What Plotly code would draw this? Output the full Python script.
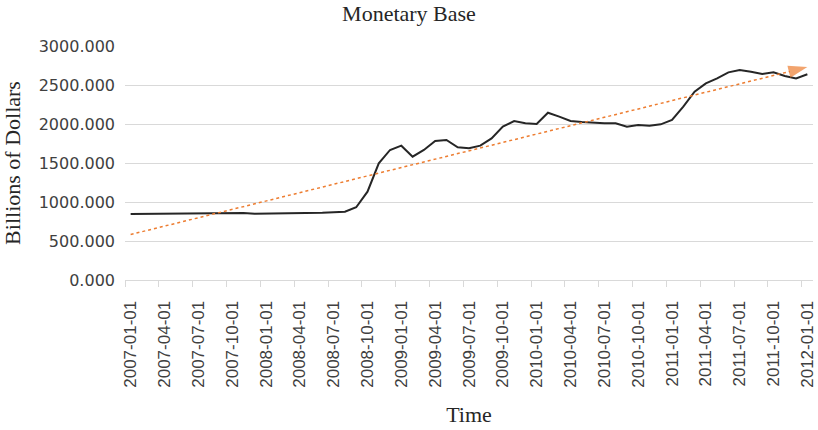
import numpy as np
import plotly.graph_objects as go

# monthly observations, 2007-01 .. 2012-01
dates = [f"{y}-{m:02d}-01" for y in range(2007, 2012) for m in range(1, 13)] + ["2012-01-01"]

monetary_base = [
    845, 846, 848, 849, 850, 852, 853, 854, 855, 857,
    860, 850, 851, 853, 855, 857, 859, 862, 868, 875,
    932, 1132, 1496, 1667, 1722, 1581, 1667, 1782, 1795, 1701,
    1688, 1722, 1816, 1966, 2038, 2009, 2000, 2145, 2094, 2038,
    2026, 2017, 2009, 2009, 1966, 1987, 1979, 1996, 2051, 2222,
    2415, 2521, 2585, 2662, 2692, 2671, 2641, 2662, 2615, 2585,
    2637,
]

y_ticks = [0, 500, 1000, 1500, 2000, 2500, 3000]

idx = np.arange(len(dates))
vals = np.array(monetary_base, dtype=float)

# linear trendline (like Excel's)
slope, intercept = np.polyfit(idx, vals, 1)
trend_x = [idx[0], idx[-1]]
trend_y = [intercept + slope * idx[0], intercept + slope * idx[-1]]

label_idx = list(idx[::3])
boundary_ticks = [i - 0.5 for i in label_idx]

fig = go.Figure()

fig.add_trace(go.Scatter(
    x=idx, y=vals, mode="lines",
    line=dict(color="#262626", width=2),
    showlegend=False,
))

fig.add_trace(go.Scatter(
    x=trend_x, y=trend_y, mode="lines+markers",
    line=dict(color="#ED7D31", width=1.5, dash="dot"),
    marker=dict(symbol="arrow", size=[0, 20], angleref="previous",
                color="#ED7D31", line=dict(width=0)),
    cliponaxis=False,
    showlegend=False,
))

fig.update_layout(
    width=818, height=430,
    margin=dict(l=125, r=5, t=46, b=150, autoexpand=False),
    plot_bgcolor="white", paper_bgcolor="white",
    title=dict(text="Monetary Base", x=0.5, xanchor="center", y=0.97, yanchor="middle",
               font=dict(family="Liberation Serif", size=22, color="#262626")),
    showlegend=False,
)

fig.update_xaxes(
    range=[-0.5, len(dates) - 0.5], automargin=False,
    tickmode="array", tickvals=label_idx, ticktext=[dates[i] for i in label_idx],
    tickangle=-90, ticks="", ticklabelstandoff=13, ticklabeloverflow="allow",
    tickfont=dict(family="Liberation Sans", size=17, color="#404040"),
    showgrid=False, zeroline=False,
    showline=True, linecolor="#d9d9d9", linewidth=1,
    minor=dict(tickmode="array", tickvals=boundary_ticks, ticks="outside",
               ticklen=6, tickcolor="#d9d9d9", tickwidth=1, showgrid=False),
    title=dict(text="Time", standoff=19,
               font=dict(family="Liberation Serif", size=22, color="#262626")),
)

fig.update_yaxes(
    range=[0, 3000], automargin=False,
    tickmode="array", tickvals=y_ticks, tickformat=".3f",
    ticks="", ticklabelstandoff=9,
    tickfont=dict(family="DejaVu Sans", size=16, color="#404040"),
    showgrid=True, gridcolor="#d9d9d9", gridwidth=1,
    zeroline=False, showline=False,
    title=dict(text="Billions of Dollars", standoff=12,
               font=dict(family="Liberation Serif", size=22, color="#262626")),
)

# the page body has a default margin; drop it so the figure sits at the corner
fig.write_html("out.html", config={"displayModeBar": False},
               post_script="document.body.style.margin='0';")
